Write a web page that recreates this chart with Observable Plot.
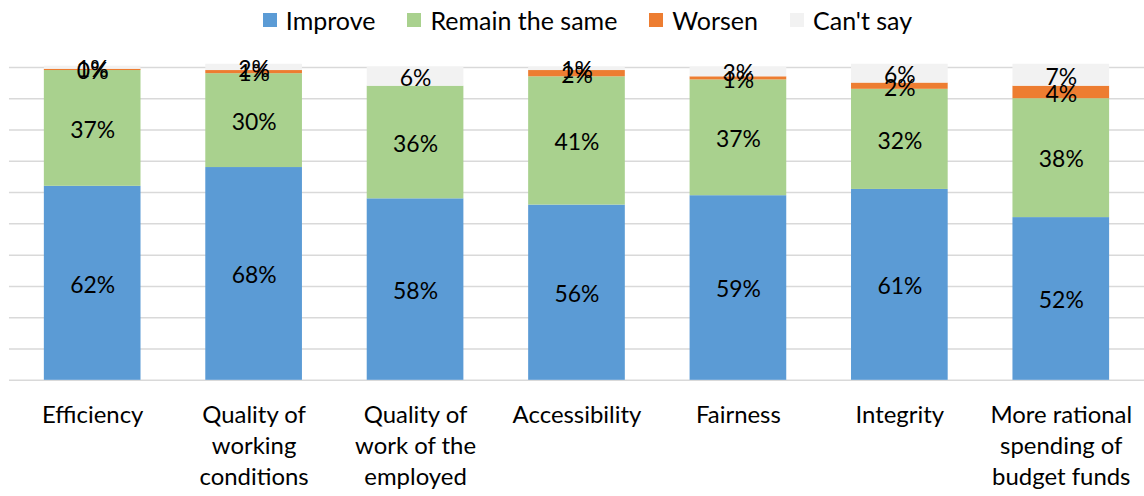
<!DOCTYPE html>
<html>
<head>
<meta charset="utf-8">
<script src="https://cdn.jsdelivr.net/npm/d3@7"></script>
<script src="https://cdn.jsdelivr.net/npm/@observablehq/plot@0.6"></script>
<style>
  html, body { margin: 0; padding: 0; background: #fff; overflow: hidden; width: 1144px; height: 496px; }
  body { font-family: Lato, "Open Sans", sans-serif; }
  #legend { height: 40px; display: flex; justify-content: center; align-items: center; font-size: 25px; color: #000; padding-left: 31px; box-sizing: border-box; }
  .item { display: flex; align-items: center; margin: 0 16px; }
  .sw { width: 14px; height: 14px; margin-right: 9px; }
  #chart svg { display: block; overflow: visible; }
</style>
</head>
<body>
<div id="legend"></div>
<div id="chart"></div>
<script>
const categories = ["Efficiency", "Quality of working conditions", "Quality of work of the employed", "Accessibility", "Fairness", "Integrity", "More rational spending of budget funds"];
const tickLabels = ["Efficiency", "Quality of\nworking\nconditions", "Quality of\nwork of the\nemployed", "Accessibility", "Fairness", "Integrity", "More rational\nspending of\nbudget funds"];
const seriesNames = ["Improve", "Remain the same", "Worsen", "Can't say"];
const seriesColors = ["#5b9bd5", "#a9d18e", "#ed7d31", "#f2f2f2"];
const improve = [62, 68, 58, 56, 59, 61, 52];
const remain = [37, 30, 36, 41, 37, 32, 38];
const worsen = [0.4, 1, 0, 2, 1, 2, 4];
const cantSay = [1, 2, 6, 1, 3, 6, 7];
const yTicks = [0, 10, 20, 30, 40, 50, 60, 70, 80, 90, 100];

const seriesValues = [improve, remain, worsen, cantSay];
const data = [];
seriesNames.forEach((s, si) => {
  categories.forEach((c, ci) => {
    data.push({category: c, series: s, value: seriesValues[si][ci]});
  });
});

// legend
const legend = document.getElementById("legend");
seriesNames.forEach((s, i) => {
  const it = document.createElement("div");
  it.className = "item";
  const sw = document.createElement("span");
  sw.className = "sw";
  sw.style.background = seriesColors[i];
  const tx = document.createElement("span");
  tx.textContent = s;
  it.appendChild(sw); it.appendChild(tx);
  legend.appendChild(it);
});

const labelMap = new Map(categories.map((c, i) => [c, tickLabels[i]]));

const chart = Plot.plot({
  width: 1148,
  height: 456,
  marginTop: 27,
  marginBottom: 115,
  marginLeft: 9,
  marginRight: 0,
  style: {fontFamily: "Lato, 'Open Sans', sans-serif", background: "#fff"},
  x: {domain: categories, paddingInner: 0.4, paddingOuter: 0.2, label: null},
  y: {domain: [0, 100], axis: null},
  color: {domain: seriesNames, range: seriesColors},
  marks: [
    Plot.gridY(yTicks, {stroke: "#d9d9d9", strokeOpacity: 1, strokeWidth: 1.5}),
    Plot.barY(data, Plot.stackY({x: "category", y: "value", fill: "series", order: seriesNames})),
    Plot.text(data, Plot.stackY({
      x: "category", y: "value", z: "series", order: seriesNames,
      text: d => d.value > 0 ? Math.round(d.value) + "%" : null,
      fill: "#000", fontSize: 23, dy: 2
    })),
    Plot.axisX({tickSize: 0, tickPadding: 21, fontSize: 24, lineHeight: 1.29, fill: "#000", tickFormat: d => labelMap.get(d), label: null})
  ]
});
document.getElementById("chart").appendChild(chart);
</script>
</body>
</html>
